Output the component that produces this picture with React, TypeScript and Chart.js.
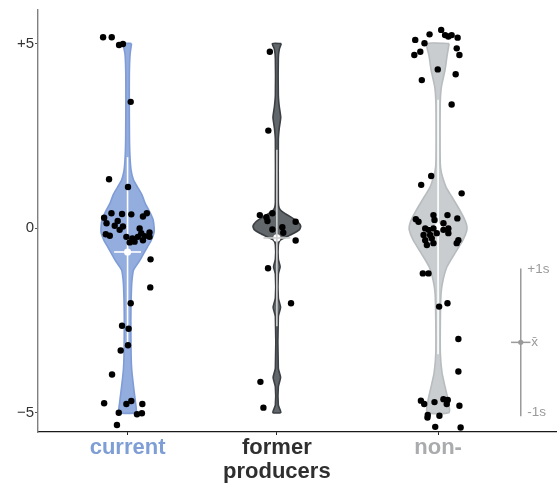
import React, { useEffect, useRef } from 'react';
import { Chart, registerables } from 'chart.js';

Chart.register(...registerables);

// ---------- categories / axes ----------
const categoryLabels = [['current'], ['former', 'producers'], ['non-']];
const categoryColors = ['#7f9ed6', '#2f2f2f', '#a9abad'];
const categoryPositions = [1, 2, 3.08];
const yTickValues = [-5, 0, 5];
const yTickLabels = ['\u22125', '0', '+5'];

// ---------- observations (value, horizontal jitter) ----------
const currentValues = [5.17, 5.17, 4.96, 4.99, 3.42, 1.32, 1.11, 0.28, 0.40, 0.38, 0.37, 0.31, 0.40, 0.13, 0.06, 0.04, -0.05, -0.17, -0.21, -0.24, -0.28, -0.01, -0.14, -0.24, -0.12, -0.24, -0.37, -0.39, -0.33, -0.22, 0.19, -0.85, -1.61, -2.04, -2.65, -2.73, -3.18, -3.32, -3.97, -4.75, -4.77, -4.69, -4.77, -5.01, -5.05, -5.02, -5.34];
const currentJitter = [-0.164, -0.106, -0.057, -0.031, 0.021, -0.124, 0.003, -0.157, -0.108, -0.037, 0.025, 0.103, 0.129, -0.141, -0.086, -0.031, -0.053, -0.146, -0.119, -0.008, 0.032, 0.081, 0.092, 0.069, 0.147, 0.147, 0.047, 0.014, 0.103, 0.114, -0.066, 0.154, 0.152, 0.021, -0.037, 0.007, 0.003, -0.046, -0.104, -0.157, -0.008, 0.025, 0.099, -0.059, 0.063, 0.096, -0.071];

const formerValues = [4.78, 2.64, 0.35, 0.29, 0.19, 0.40, 0.17, -0.04, 0.02, -0.13, -0.34, -1.09, -2.04, -4.17, -4.87];
const formerJitter = [-0.047, -0.057, -0.114, -0.070, -0.063, -0.030, 0.126, -0.030, 0.037, 0.043, 0.126, -0.059, 0.095, -0.110, -0.090];

const nonValues = [5.10, 5.01, 5.25, 5.37, 5.23, 5.19, 5.23, 5.16, 4.87, 4.69, 4.78, 4.69, 4.30, 4.17, 4.01, 3.35,
  1.41, 1.17, 0.94, 0.24, 0.17, 0.35, 0.22, 0.35, 0.26, 0.13, -0.01, -0.05, -0.01, -0.05, -0.01, -0.19, -0.19, -0.33, -0.28, -0.46, -0.41, -0.14, -0.33, -0.41, -0.14, -1.23, -1.23,
  -2.13, -2.04, -3.01, -3.89, -4.68, -4.77, -4.72, -4.64, -4.66, -4.77, -4.82, -5.07, -5.14, -5.09, -5.39, -5.41];
const nonJitter = [-0.153, -0.091, -0.057, 0.021, 0.047, 0.069, 0.091, 0.131, 0.125, 0.143, -0.119, -0.159, -0.002, 0.118, -0.109, 0.091,
  -0.046, -0.113, 0.158, -0.149, -0.131, -0.031, -0.024, 0.063, 0.129, 0.036, -0.086, -0.064, -0.031, 0.036, 0.069, -0.097, -0.053, -0.086, -0.042, -0.075, -0.031, 0.069, 0.136, 0.125, -0.009, -0.102, -0.064,
  0.007, 0.063, 0.136, 0.136, -0.115, -0.093, -0.024, 0.036, 0.065, 0.058, 0.143, -0.069, -0.071, 0.009, -0.019, 0.151];

// ---------- violin density profiles ----------
const currentViolinY = [5.0, 4.7, 4.2, 3.5, 2.5, 2.0, 1.57, 1.3, 1.11, 0.9, 0.68, 0.45, 0.22, 0.0, -0.14, -0.35, -0.51, -0.7, -0.87, -1.14, -1.4, -1.6, -2.0, -2.5, -3.0, -3.5, -3.85, -4.3, -4.74, -5.0];
const currentViolinDensity = [0.133, 0.083, 0.06, 0.057, 0.063, 0.077, 0.117, 0.2, 0.333, 0.483, 0.583, 0.733, 0.857, 0.89, 0.883, 0.783, 0.667, 0.533, 0.417, 0.2, 0.15, 0.133, 0.117, 0.11, 0.113, 0.12, 0.14, 0.2, 0.267, 0.283];

const formerViolinY = [5.0, 4.85, 4.6, 3.6, 3.3, 3.0, 2.7, 2.4, 0.7, 0.55, 0.45, 0.38, 0.3, 0.17, 0.05, -0.05, -0.15, -0.25, -0.33, -0.45, -0.85, -1.05, -1.25, -1.9, -2.15, -2.4, -3.8, -4.05, -4.3, -4.8, -5.0];
const formerViolinDensity = [0.15, 0.083, 0.05, 0.05, 0.08, 0.13, 0.08, 0.05, 0.05, 0.075, 0.167, 0.3, 0.467, 0.7, 0.8, 0.75, 0.55, 0.3, 0.11, 0.05, 0.05, 0.11, 0.05, 0.05, 0.125, 0.05, 0.05, 0.125, 0.05, 0.05, 0.133];

const nonViolinY = [5.0, 4.66, 4.28, 3.82, 3.38, 2.5, 1.76, 1.55, 1.38, 1.11, 0.84, 0.57, 0.3, 0.1, -0.05, -0.33, -0.68, -1.05, -1.41, -1.77, -2.5, -3.4, -3.93, -4.3, -4.66, -5.0];
const nonViolinDensity = [0.37, 0.3, 0.233, 0.11, 0.073, 0.067, 0.073, 0.1, 0.15, 0.267, 0.467, 0.667, 0.85, 0.95, 0.967, 0.833, 0.567, 0.3, 0.167, 0.1, 0.077, 0.077, 0.133, 0.233, 0.333, 0.37];

// ---------- summary (mean ± 1 sd) ----------
const groupMeans = [-0.65, -0.27, 0.03];
const groupSDs = [2.57, 2.39, 3.45];

// ---------- key ----------
const keyMean = -3.1;
const keySD = 2.0;
const keyLabels = ['+1s', 'x\u0304', '-1s'];

// ---------- styles ----------
const FONT = "'Liberation Sans', Arial, Helvetica, sans-serif";
const violinFill = ['#93addf', '#62676b', '#c9cdd0'];
const violinStroke = ['#7f9cd6', '#3b3f43', '#b7bcbf'];
const summaryColor = ['#ffffff', '#cfcfcf', '#ffffff'];
const violinWidthScale = 0.2;
const meanTickHalf = 0.09;
const keyX = 3.634;
const keyTickHalf = 0.065;
const keyColor = '#9a9a9a';

const groups = [
  { values: currentValues, jitter: currentJitter, vy: currentViolinY, vd: currentViolinDensity },
  { values: formerValues, jitter: formerJitter, vy: formerViolinY, vd: formerViolinDensity },
  { values: nonValues, jitter: nonJitter, vy: nonViolinY, vd: nonViolinDensity },
];

function violinOutline(center: number, ys: number[], ds: number[]) {
  const right = ys.map((y, i) => ({ x: center + ds[i] * violinWidthScale, y }));
  const left = ys.map((y, i) => ({ x: center - ds[i] * violinWidthScale, y })).reverse();
  return [...right, ...left, right[0]];
}

const keyTextPlugin = {
  id: 'keyText',
  afterDatasetsDraw(chart: any) {
    const { ctx, scales } = chart;
    const x = scales.x.getPixelForValue(keyX);
    const top = scales.y.getPixelForValue(keyMean + keySD);
    const mid = scales.y.getPixelForValue(keyMean);
    const bot = scales.y.getPixelForValue(keyMean - keySD);
    ctx.save();
    ctx.fillStyle = keyColor;
    ctx.font = `13.5px ${FONT}`;
    ctx.textAlign = 'left';
    ctx.textBaseline = 'alphabetic';
    ctx.fillText(keyLabels[0], x + 6.5, top + 4.5);
    ctx.textBaseline = 'middle';
    ctx.fillText(keyLabels[1], x + 10.5, mid);
    ctx.textBaseline = 'alphabetic';
    ctx.fillText(keyLabels[2], x + 6.5, bot);
    ctx.restore();
  },
};

export default function App() {
  const ref = useRef<HTMLCanvasElement>(null);

  useEffect(() => {
    const canvas = ref.current;
    if (!canvas) return;
    const datasets: any[] = [];

    groups.forEach((g, gi) => {
      const c = categoryPositions[gi];
      datasets.push({
        type: 'line',
        data: violinOutline(c, g.vy, g.vd),
        borderColor: violinStroke[gi],
        backgroundColor: violinFill[gi],
        borderWidth: 1.6,
        pointRadius: 0,
        tension: 0.2,
        fill: 'shape',
        order: 3,
      });
      const m = groupMeans[gi];
      const s = groupSDs[gi];
      datasets.push({
        type: 'line',
        data: [{ x: c, y: m - s }, { x: c, y: m + s }],
        borderColor: summaryColor[gi],
        borderWidth: 1.6,
        pointRadius: 0,
        fill: false,
        order: 2,
      });
      datasets.push({
        type: 'line',
        data: [{ x: c - meanTickHalf, y: m }, { x: c + meanTickHalf, y: m }],
        borderColor: summaryColor[gi],
        borderWidth: 1.6,
        pointRadius: 0,
        fill: false,
        order: 2,
      });
      datasets.push({
        type: 'scatter',
        data: [{ x: c, y: m }],
        backgroundColor: '#ffffff',
        borderWidth: 0,
        pointRadius: 3.6,
        order: 2,
      });
      datasets.push({
        type: 'scatter',
        data: g.values.map((v, i) => ({ x: c + g.jitter[i], y: v })),
        backgroundColor: '#000000',
        borderWidth: 0,
        pointRadius: 3.2,
        order: 0,
      });
    });

    // key
    datasets.push({
      type: 'line',
      data: [{ x: keyX, y: keyMean - keySD }, { x: keyX, y: keyMean + keySD }],
      borderColor: keyColor,
      borderWidth: 1.5,
      pointRadius: 0,
      fill: false,
      order: 1,
    });
    datasets.push({
      type: 'line',
      data: [{ x: keyX - keyTickHalf, y: keyMean }, { x: keyX + keyTickHalf, y: keyMean }],
      borderColor: keyColor,
      borderWidth: 1.5,
      pointRadius: 0,
      fill: false,
      order: 1,
    });
    datasets.push({
      type: 'scatter',
      data: [{ x: keyX, y: keyMean }],
      backgroundColor: keyColor,
      borderWidth: 0,
      pointRadius: 2.6,
      order: 1,
    });

    const chart = new Chart(canvas, {
      type: 'scatter',
      data: { datasets },
      plugins: [keyTextPlugin],
      options: {
        animation: false,
        responsive: false,
        events: [],
        layout: { padding: { top: 10, right: 2, left: 0, bottom: 0 } },
        plugins: { legend: { display: false }, tooltip: { enabled: false } },
        scales: {
          x: {
            type: 'linear',
            min: 0.4,
            max: 3.87,
            afterBuildTicks: (s: any) => {
              s.ticks = categoryPositions.map((v) => ({ value: v }));
            },
            afterFit: (s: any) => {
              s.height = 51;
            },
            grid: { drawOnChartArea: false, drawTicks: true, tickLength: 3, color: '#222' },
            border: { display: true, color: '#1a1a1a', width: 1.2 },
            ticks: {
              autoSkip: false,
              maxRotation: 0,
              minRotation: 0,
              padding: 0.5,
              font: { family: FONT, size: 22, weight: 'bold', lineHeight: 1.09 },
              color: (ctx: any) => categoryColors[ctx.index] || '#333',
              callback: (_v: any, i: number) => categoryLabels[i],
            },
          },
          y: {
            type: 'linear',
            min: -5.53,
            max: 5.91,
            afterBuildTicks: (s: any) => {
              s.ticks = yTickValues.map((v) => ({ value: v }));
            },
            afterFit: (s: any) => {
              s.width = 38;
            },
            grid: { drawOnChartArea: false, drawTicks: true, tickLength: 3, color: '#555' },
            border: { display: true, color: '#808080', width: 1.4 },
            ticks: {
              padding: 1,
              font: { family: FONT, size: 15 },
              color: '#333',
              callback: (_v: any, i: number) => yTickLabels[i],
            },
          },
        },
      } as any,
    });

    return () => chart.destroy();
  }, []);

  return (
    <div style={{ position: 'fixed', left: 0, top: 0, width: 560, height: 483, background: '#fff' }}>
      <canvas ref={ref} width={560} height={483} style={{ display: 'block', width: 560, height: 483 }} />
    </div>
  );
}
